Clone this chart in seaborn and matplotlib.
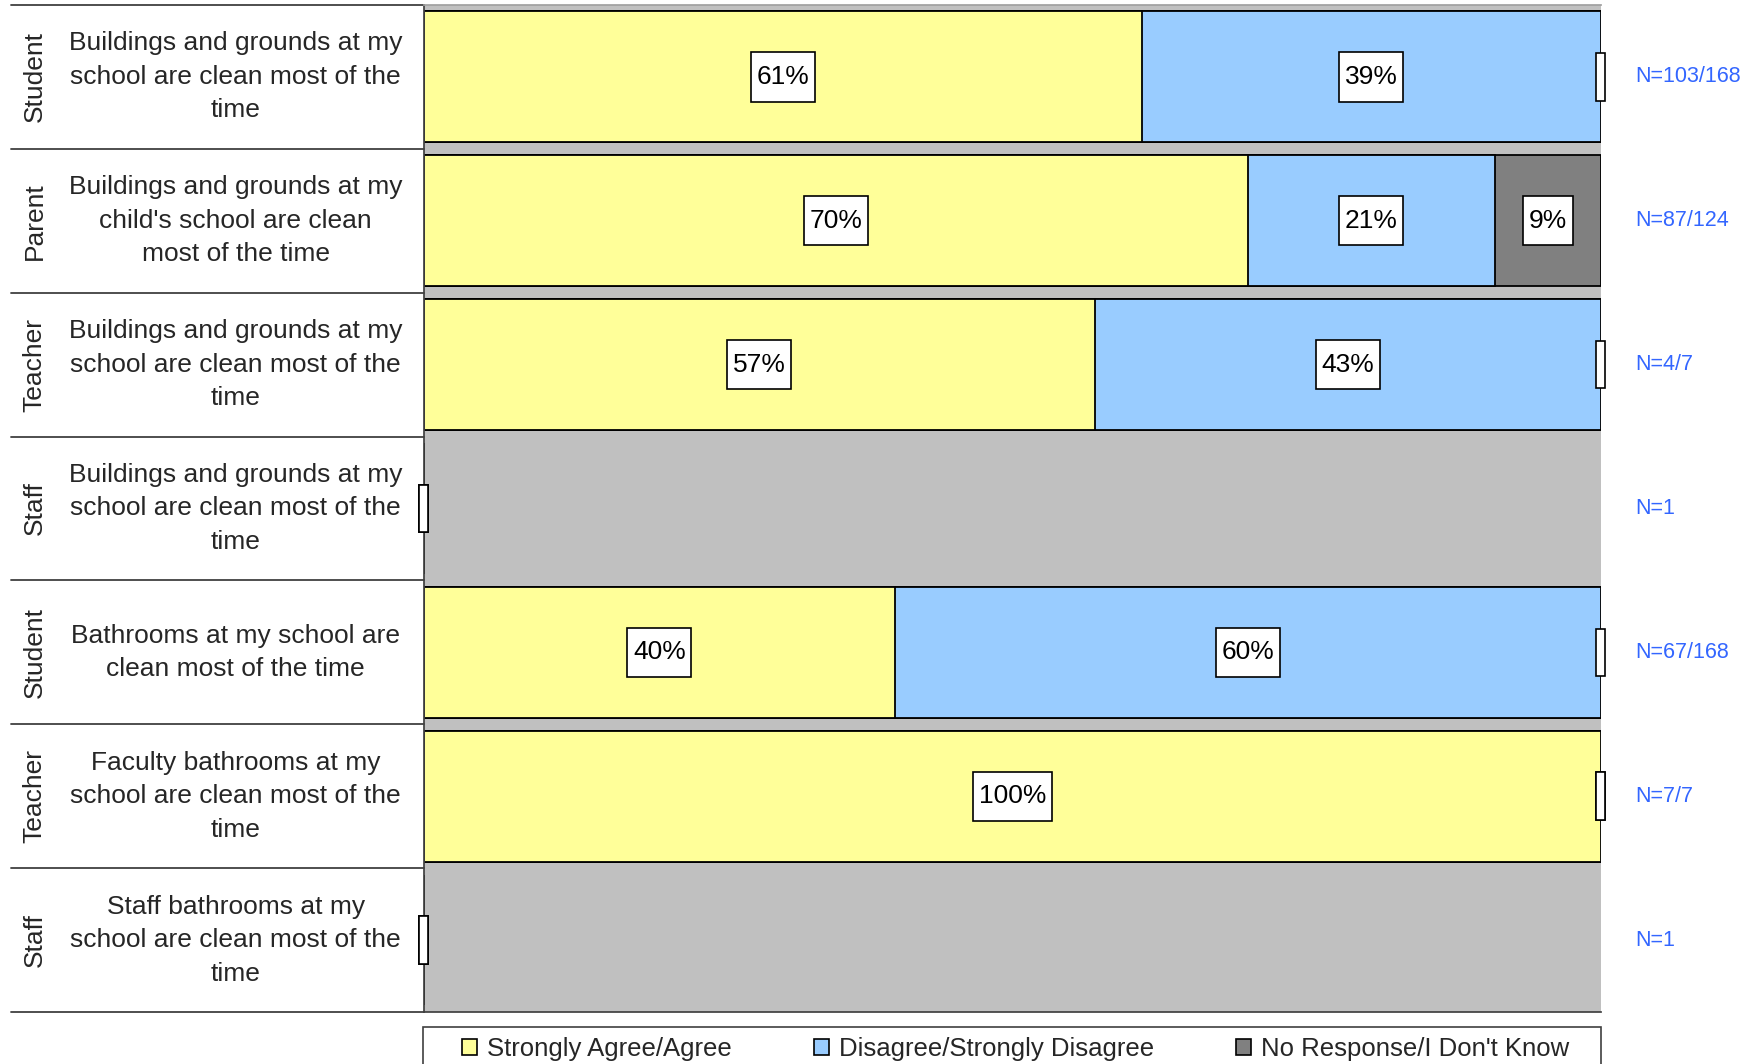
'''Survey chart: building and bathroom cleanliness by respondent group.

Stacked horizontal bars (agree / disagree / no response) drawn with
seaborn, one row per respondent group and question.
'''

# -----------------------------------------------------------------------------
# Modules

from matplotlib import pyplot as plt  # type: ignore
from matplotlib.patches import Patch, Rectangle  # type: ignore
from matplotlib.path import Path  # type: ignore
import matplotlib.transforms as mtransforms  # type: ignore
import pandas as pd  # type: ignore
import seaborn as sns  # type: ignore

# -----------------------------------------------------------------------------
# Data

roles = ['Student', 'Parent', 'Teacher', 'Staff', 'Student', 'Teacher',
         'Staff']
questions = [
    'Buildings and grounds at my\nschool are clean most of the\ntime',
    'Buildings and grounds at my\nchild\'s school are clean\nmost of the time',
    'Buildings and grounds at my\nschool are clean most of the\ntime',
    'Buildings and grounds at my\nschool are clean most of the\ntime',
    'Bathrooms at my school are\nclean most of the time',
    'Faculty bathrooms at my\nschool are clean most of the\ntime',
    'Staff bathrooms at my\nschool are clean most of the\ntime',
]
agree = [61, 70, 57, 0, 40, 100, 0]
disagree = [39, 21, 43, 0, 60, 0, 0]
no_response = [0, 9, 0, 0, 0, 0, 0]
n_labels = ['N=103/168', 'N=87/124', 'N=4/7', 'N=1', 'N=67/168', 'N=7/7',
            'N=1']
legend_labels = ['Strongly Agree/Agree', 'Disagree/Strongly Disagree',
                 'No Response/I Don\'t Know']

COLORS = ['#FFFF99', '#99CCFF', '#808080']

# -----------------------------------------------------------------------------


def tall_box(x0, y0, width, height, mutation_size):
    """Square label box with more room above and below than at the sides."""

    pad_x = 0.21 * mutation_size
    pad_y = 0.48 * mutation_size
    x0, y0 = x0 - pad_x, y0 - pad_y
    x1, y1 = x0 + width + 2 * pad_x, y0 + height + 2 * pad_y
    return Path([(x0, y0), (x1, y0), (x1, y1), (x0, y1), (x0, y0)],
                closed=True)

# -----------------------------------------------------------------------------


def survey_plot() -> None:
    """Plots the stacked survey bars and saves them in out.png."""

    sns.set_theme(style='white')
    plt.rcParams['font.family'] = ['Liberation Sans', 'DejaVu Sans']

    rows = [f'r{i}' for i in range(len(roles))]
    data = pd.DataFrame({'row': rows, 'agree': agree,
                         'disagree': disagree, 'no_response': no_response})
    data['cum2'] = data['agree'] + data['disagree']
    data['cum3'] = data['cum2'] + data['no_response']

    figure = plt.figure(figsize=(17.54, 10.64), dpi=100)
    ax = figure.add_axes([0.2417, 0.0489, 0.6710, 0.9464])
    ax.set_facecolor('#C0C0C0')

    # Layered cumulative bars, widest first
    for col, color in zip(['cum3', 'cum2', 'agree'], COLORS[::-1]):
        sns.barplot(data=data, x=col, y='row', orient='h', color=color,
                    edgecolor='black', linewidth=1.3, width=0.91,
                    saturation=1, ax=ax)

    ax.set_xlim(0, 100)
    ax.set_ylim(len(rows) - 0.5, -0.5)
    ax.set_xlabel('')
    ax.set_ylabel('')
    ax.set_xticks([])
    ax.set_yticks([])
    ax.spines['right'].set_visible(False)
    ax.spines['top'].set_color('#A0A0A0')
    ax.spines['left'].set_color('#404040')
    ax.spines['bottom'].set_color('#404040')

    trans = mtransforms.blended_transform_factory(ax.transAxes, ax.transData)

    # Value boxes
    for i in range(len(rows)):
        left = 0
        for val in (agree[i], disagree[i], no_response[i]):
            if val > 0:
                ax.text(left + val / 2, i, f'{val}%', ha='center',
                        va='center', fontsize=19, color='black',
                        bbox=dict(boxstyle=tall_box, fc='white',
                                  ec='black', lw=1.2))
            else:
                ax.add_patch(Rectangle((left - 0.38, i - 0.165), 0.76, 0.33,
                                       fc='white', ec='black', lw=1.2,
                                       clip_on=False, zorder=5))
            left += val

        # Left labels
        ax.text(-0.331, i, roles[i], transform=trans, rotation=90,
                ha='center', va='center', fontsize=19)
        ax.text(-0.160, i, questions[i], transform=trans, ha='center',
                va='center', fontsize=19, linespacing=1.5)
        ax.text(1.029, i, n_labels[i], transform=trans, ha='left',
                va='center', fontsize=15.5, color='#3366FF')

    for i in range(len(rows) + 1):
        ax.plot([-0.351, 0], [i - 0.5, i - 0.5], transform=trans,
                color='#404040', lw=1.3, clip_on=False)

    # Legend
    figure.patches.append(Rectangle((423 / 1754, -0.05), 1178 / 1754,
                                    (1064 - 1027) / 1064 + 0.05,
                                    transform=figure.transFigure,
                                    fc='white', ec='#404040', lw=1.2))
    handles = [Patch(fc=c, ec='black', lw=1.2) for c in COLORS]
    figure.legend(handles, legend_labels, loc='upper center',
                  bbox_to_anchor=(1016 / 1754, (1064 - 1022) / 1064),
                  ncol=3, frameon=False, handlelength=0.58,
                  handleheight=0.58, handletextpad=0.39, columnspacing=3.2,
                  borderpad=0.1, prop={'size': 18.5})

    figure.savefig('out.png', dpi=100)
    plt.close()

# -----------------------------------------------------------------------------


def main() -> None:
    """The main function of the script."""

    survey_plot()

# -----------------------------------------------------------------------------


if __name__ == '__main__':
    main()
